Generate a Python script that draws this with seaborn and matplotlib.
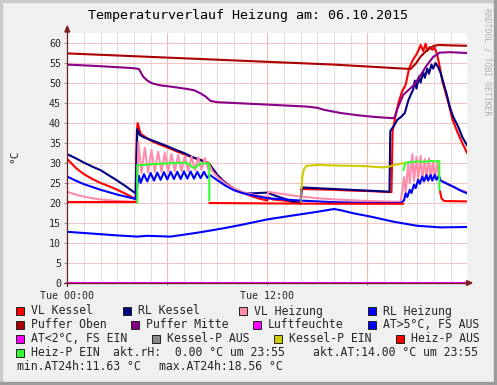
import numpy as np
import pandas as pd
import matplotlib
matplotlib.use("Agg")
import matplotlib.pyplot as plt
import seaborn as sns
from matplotlib.lines import Line2D
from matplotlib.patches import Rectangle, Polygon

nan = np.nan

# ---------------- data (hours of day, °C) ----------------
vl_kessel_h = [0, 0.5, 1.0, 1.5, 2.0, 2.5, 3.0, 3.5, 4.1, 4.17, 4.22, 4.4, 5.0, 5.5, 6.0, 6.5, 7.0, 7.5, 8.0, 8.5,
               8.7, 9.0, 9.5, 10.0, 10.5, 11.0, 11.5, 12.0, 12.05, 12.3, 13.0, 13.5, 14.0, 14.06, 15.0, 16.0, 17.0,
               18.0, 19.0, 19.45, 19.52, 19.7, 19.9, 20.1, 20.3, 20.5, 20.7, 20.85, 21.0, 21.2, 21.35, 21.5, 21.6,
               21.75, 21.9, 22.05, 22.2, 22.35, 22.5, 22.7, 22.9, 23.1, 23.4, 23.7, 24.0]
vl_kessel = [31.0, 28.8, 27.2, 26.0, 25.0, 24.2, 23.3, 22.3, 21.0, 37.5, 40.0, 37.3, 35.6, 34.7, 33.9, 33.0, 32.2,
             31.4, 30.8, 30.0, 28.7, 27.0, 25.0, 23.6, 22.6, 21.8, 21.1, 20.6, 21.4, 20.9, 20.6, 20.3, 20.1, 23.5,
             23.4, 23.3, 23.1, 23.0, 22.8, 22.7, 38.0, 42.0, 45.5, 48.0, 49.5, 53.5, 55.5, 56.5, 57.5, 59.5, 58.0,
             59.8, 58.0, 59.0, 58.3, 58.8, 57.0, 54.0, 50.5, 47.5, 44.5, 41.0, 37.8, 35.0, 32.4]

rl_kessel_h = [0, 0.5, 1.0, 1.5, 2.0, 2.5, 3.0, 3.5, 4.1, 4.15, 4.2, 4.35, 4.6, 5.0, 5.5, 6.0, 6.5, 7.0, 7.5, 8.0,
               8.56, 9.0, 9.4, 10.0, 10.5, 11.0, 11.5, 12.0, 12.5, 13.0, 13.5, 14.0, 14.06, 15.0, 16.0, 17.0, 18.0,
               19.0, 19.33, 19.38, 19.6, 19.8, 20.05, 20.25, 20.45, 20.6, 20.75, 20.85, 20.95, 21.1, 21.2, 21.35,
               21.45, 21.6, 21.7, 21.85, 21.95, 22.1, 22.25, 22.4, 22.55, 22.75, 22.95, 23.15, 23.45, 23.7, 24.0]
rl_kessel = [32.2, 31.2, 30.1, 29.1, 28.2, 26.9, 25.6, 24.2, 22.4, 31.0, 38.5, 37.0, 36.4, 35.8, 35.0, 34.2, 33.3,
             32.5, 31.5, 30.7, 29.5, 27.0, 25.3, 23.4, 22.5, 22.4, 22.5, 22.6, 21.8, 21.1, 20.4, 19.9, 23.9, 23.7,
             23.5, 23.3, 23.1, 22.9, 22.8, 38.0, 39.3, 40.8, 41.6, 42.5, 45.5, 47.0, 48.3, 50.6, 48.6, 51.6, 50.1,
             52.8, 51.3, 53.6, 52.3, 54.6, 53.6, 55.0, 54.0, 52.5, 50.3, 47.4, 44.0, 41.6, 39.1, 36.5, 34.3]

vl_heiz_h = [0, 0.5, 1.0, 1.5, 2.0, 2.5, 3.0, 3.5, 4.1, 4.2, 4.27, 4.45, 4.65, 4.85, 5.05, 5.25, 5.45, 5.65, 5.85,
             6.05, 6.25, 6.45, 6.65, 6.85, 7.05, 7.25, 7.45, 7.65, 7.85, 8.05, 8.25, 8.45, 8.56, 8.7, 9.0, 9.5,
             10.0, 10.5, 11.0, 11.5, 12.0, 12.06, 12.5, 13.0, 13.5, 14.0, 15.0, 16.0, 17.0, 18.0, 19.0, 20.0,
             20.1, 20.2, 20.3, 20.45, 20.55, 20.7, 20.8, 20.95, 21.05, 21.2, 21.3, 21.45, 21.55, 21.7, 21.8,
             21.95, 22.05, 22.2, 22.3, 22.4, 23.0, 23.5, 24.0]
vl_heiz = [22.8, 22.1, 21.6, 21.2, 20.9, 20.7, 20.5, 20.4, 20.3, 24.0, 35.3, 27.5, 33.8, 27.6, 33.2, 27.8, 32.8,
           27.8, 32.5, 27.9, 32.2, 28.0, 32.0, 28.0, 31.8, 28.0, 31.6, 28.2, 31.4, 28.3, 31.2, 28.5, 29.2, 28.0,
           26.5, 24.8, 23.6, 22.8, 22.2, 21.8, 21.4, 22.8, 22.5, 22.2, 21.9, 21.6, 21.2, 20.9, 20.7, 20.5, 20.4,
           20.3, 23.0, 26.5, 22.5, 29.8, 25.0, 32.2, 25.5, 31.5, 25.8, 31.8, 26.0, 31.0, 26.0, 31.2, 26.2, 30.5,
           26.3, 30.0, 26.0, 25.6, 24.3, 23.4, 22.7]

rl_heiz_h = [0, 0.5, 1.0, 1.5, 2.0, 2.5, 3.0, 3.5, 4.1, 4.2, 4.3, 4.4, 4.6, 4.8, 5.0, 5.2, 5.4, 5.6, 5.8, 6.0,
             6.2, 6.4, 6.6, 6.8, 7.0, 7.2, 7.4, 7.6, 7.8, 8.0, 8.2, 8.4, 8.56, 9.0, 9.5, 10.0, 10.5, 11.0, 11.5,
             12.0, 13.0, 14.0, 15.0, 16.0, 17.0, 18.0, 19.0, 20.0, 20.2, 20.3, 20.4, 20.55, 20.65, 20.8, 20.9,
             21.05, 21.15, 21.3, 21.4, 21.55, 21.65, 21.8, 21.9, 22.05, 22.15, 22.3, 22.4, 22.8, 23.2, 23.6, 24.0]
rl_heiz = [26.6, 25.6, 24.7, 24.0, 23.3, 22.7, 22.1, 21.6, 21.0, 24.5, 26.8, 25.0, 27.2, 25.4, 27.5, 25.6, 27.6,
           25.8, 27.7, 25.9, 27.8, 26.0, 27.8, 26.0, 27.9, 26.1, 27.9, 26.1, 27.8, 26.2, 27.8, 26.3, 27.0, 25.7,
           24.3, 23.2, 22.5, 22.0, 21.6, 21.2, 20.9, 20.6, 20.4, 20.2, 20.1, 20.0, 20.0, 20.0, 20.6, 22.4, 21.5,
           23.3, 22.5, 24.6, 23.7, 25.8, 24.8, 26.6, 25.4, 27.0, 25.6, 27.0, 25.6, 27.1, 25.8, 26.8, 25.6, 24.8,
           24.0, 23.1, 22.4]

puffer_oben_h = [0, 4, 8, 12, 16, 20.6, 20.9, 21.2, 21.6, 22.0, 22.3, 23.0, 24.0]
puffer_oben = [57.4, 56.7, 56.0, 55.3, 54.6, 53.5, 54.8, 56.6, 58.3, 59.3, 59.5, 59.4, 59.3]

puffer_mitte_h = [0, 2, 4.0, 4.3, 4.55, 4.8, 5.1, 5.6, 6.2, 7.2, 7.6, 8.0, 8.3, 8.6, 9.0, 10, 12, 14.4, 15.0,
                  15.4, 16.4, 17.5, 18.5, 19.55, 19.65, 19.8, 20.15, 20.8, 21.2, 21.55, 21.95, 22.35, 23.0, 24.0]
puffer_mitte = [54.6, 54.2, 53.7, 53.5, 51.6, 50.6, 49.9, 49.4, 49.1, 48.5, 48.2, 47.4, 46.6, 45.5, 45.2, 45.0,
                44.6, 44.1, 43.8, 43.3, 42.5, 41.9, 41.5, 41.2, 41.5, 43.5, 47.0, 49.5, 52.0, 54.3, 56.5, 57.6,
                57.7, 57.5]

luftfeuchte_h = [0, 24]
luftfeuchte = [0.0, 0.0]

at_h = [0, 1, 2, 3, 4.2, 4.8, 5.5, 6.2, 7.2, 8.0, 9.4, 10.4, 12.0, 13.4, 15.0, 16.0, 16.4, 17.2, 18.2, 19.6,
        21.0, 22.4, 24.0]
at_aus = [12.8, 12.5, 12.2, 11.9, 11.6, 11.8, 11.7, 11.6, 12.2, 12.7, 13.7, 14.5, 15.9, 16.8, 17.8, 18.5,
          18.2, 17.4, 16.6, 15.3, 14.3, 13.9, 14.0]

kessel_p_aus_h = [13.95, 14.04, 14.04]
kessel_p_aus = [19.8, 19.8, 23.7]

kessel_p_ein_h = [14.06, 14.1, 14.2, 14.35, 15, 16, 17, 18, 18.5, 19.0, 19.3, 19.6, 20.0, 20.2]
kessel_p_ein = [23.7, 26.5, 28.5, 29.3, 29.5, 29.4, 29.3, 29.2, 29.0, 28.9, 29.1, 29.5, 29.8, 30.0]

heiz_p_aus_h = [0, 4.2, nan, 8.52, 12.0, 16.0, 20.16, nan, 22.36, 22.45, 22.6, 24.0]
heiz_p_aus = [20.2, 20.2, nan, 20.0, 19.9, 19.8, 19.8, nan, 23.0, 21.2, 20.5, 20.4]

heiz_p_ein_h = [4.2, 4.2, 4.5, 5.0, 5.5, 6.0, 6.5, 7.0, 7.3, 7.5, 7.7, 7.9, 8.2, 8.52, 8.52, nan,
                20.16, 20.3, 20.6, 21.0, 21.4, 21.8, 22.1, 22.32, 22.32]
heiz_p_ein = [20.0, 29.5, 29.5, 29.7, 29.8, 29.9, 30.0, 30.1, 29.8, 28.9, 28.8, 29.7, 29.9, 29.9, 20.7, nan,
              28.2, 30.1, 30.2, 30.4, 30.3, 30.5, 30.4, 30.5, 23.2]

legend_labels = ["VL Kessel", "RL Kessel", "VL Heizung", "RL Heizung", "Puffer Oben", "Puffer Mitte",
                 "Luftfeuchte", "AT>5°C, FS AUS", "AT<2°C, FS EIN", "Kessel-P AUS", "Kessel-P EIN",
                 "Heiz-P AUS", "Heiz-P EIN"]
legend_colors = ["#ff0000", "#000080", "#ff8cab", "#0000ff", "#aa0000", "#880088", "#ff00ff", "#0000ff",
                 "#ff00ff", "#888888", "#cccc00", "#ff0000", "#33ff33"]
gprint_texts = ["akt.rH:  0.00 °C um 23:55", "akt.AT:14.00 °C um 23:55",
                "min.AT24h:11.63 °C", "max.AT24h:18.56 °C"]
title = "Temperaturverlauf Heizung am: 06.10.2015"
x_tick_labels = ["Tue 00:00", "Tue 12:00"]

# ---------------- figure ----------------
sns.set_style("white")
plt.rcParams['font.family'] = ['DejaVu Sans Mono', 'DejaVu Sans']

W, H = 497, 385
fig = plt.figure(figsize=(W / 100, H / 100), dpi=100, facecolor='#f0f0f0')

def fx(x):
    return x / W

def fy(y):
    return 1 - y / H

L, T, PW, PH = 67.3, 33.0, 400.0, 250.0
ax = fig.add_axes([fx(L), fy(T + PH), PW / W, PH / H])
ax.set_facecolor('white')

# grid
for hh in range(1, 24):
    if hh % 6 == 0:
        ax.axvline(hh, color='#f2b8b8', lw=0.8, zorder=0.6)
    else:
        ax.axvline(hh, color='#e0e0e0', lw=0.8, zorder=0.5)
for v in range(5, 61, 5):
    ax.axhline(v, color='#f2c4c4', lw=0.8, zorder=0.6)

def draw(hours, vals, color, lw=1.5, clip=True):
    df = pd.DataFrame({'h': hours, 'v': vals}, dtype=float)
    ok = df['v'].notna()
    seg = df['v'].isna().cumsum()
    for _, part in df[ok].groupby(seg[ok]):
        sns.lineplot(data=part, x='h', y='v', ax=ax, color=color, lw=lw, sort=False,
                     estimator=None, errorbar=None, legend=False)
        ax.lines[-1].set_clip_on(clip)
        ax.lines[-1].set_solid_joinstyle('round')

series = [
    (vl_kessel_h, vl_kessel, legend_colors[0]),
    (rl_kessel_h, rl_kessel, legend_colors[1]),
    (vl_heiz_h, vl_heiz, legend_colors[2]),
    (rl_heiz_h, rl_heiz, legend_colors[3]),
    (puffer_oben_h, puffer_oben, legend_colors[4]),
    (puffer_mitte_h, puffer_mitte, legend_colors[5]),
]
for hs, vs, c in series:
    draw(hs, vs, c)
draw(luftfeuchte_h, luftfeuchte, legend_colors[6], clip=False)
draw(at_h, at_aus, legend_colors[7])
draw(kessel_p_aus_h, kessel_p_aus, legend_colors[9])
draw(kessel_p_ein_h, kessel_p_ein, legend_colors[10])
draw(heiz_p_aus_h, heiz_p_aus, legend_colors[11])
draw(heiz_p_ein_h, heiz_p_ein, legend_colors[12])

ax.set_xlim(0, 24)
ax.set_ylim(0, 62.5)
ax.set_xlabel('')
ax.set_ylabel('')
for s in ax.spines.values():
    s.set_visible(False)

ax.set_yticks(range(0, 61, 5))
ax.set_yticklabels([str(v) for v in range(0, 61, 5)])
ax.set_xticks([0, 6, 12, 18])
ax.set_xticklabels([x_tick_labels[0], '', x_tick_labels[1], ''])
ax.tick_params(axis='y', length=2.2, width=0.8, color='#909090', pad=2.4, labelsize=7.2, direction='out', left=True)
ax.tick_params(axis='x', length=1.5, width=0.8, color='#909090', pad=4.4, labelsize=7.2, direction='out', bottom=True)

# axes lines with arrows (RRD style)
axc = '#6b1f1f'
fig.add_artist(Line2D([fx(63.5), fx(468)], [fy(283), fy(283)], color=axc, lw=0.9, zorder=5))
fig.add_artist(Line2D([fx(L), fx(L)], [fy(286), fy(31)], color=axc, lw=0.9, zorder=5))
fig.add_artist(Polygon([[fx(L), fy(26)], [fx(L - 2.4), fy(32)], [fx(L + 2.4), fy(32)]],
                       closed=True, color='#7f1f1f', zorder=6))
fig.add_artist(Polygon([[fx(472), fy(283)], [fx(466.5), fy(280.6)], [fx(466.5), fy(285.4)]],
                       closed=True, color='#7f1f1f', zorder=6))

# frame shading
fig.add_artist(Rectangle((0, fy(2)), 1, 2 / H, color='#cbcbcb', zorder=10))
fig.add_artist(Rectangle((0, 0), 2 / W, 1, color='#cbcbcb', zorder=10))
fig.add_artist(Rectangle((0, 0), 1, 3 / H, color='#9c9c9c', zorder=11))
fig.add_artist(Rectangle((fx(494), 0), 3 / W, 1, color='#9c9c9c', zorder=11))

# texts
fig.text(fx(248.5), fy(15.5), title, ha='center', va='center', fontsize=9.6, color='black')
fig.text(fx(486.5), fy(8), "RRDTOOL / TOBI OETIKER", rotation=270, ha='center', va='top',
         fontsize=5.9, color='#b0b0b0')
fig.text(fx(14), fy(156), "°C", rotation=90, ha='center', va='center', fontsize=8)

# legend (RRD layout)
leg_pos = [(16.3, 31, 311), (123.3, 138.3, 311), (239.3, 254, 311), (368.3, 382.7, 311),
           (16.3, 31, 325), (131, 145.7, 325), (252.7, 267.3, 325), (368.3, 382.7, 325),
           (16.3, 31, 339), (151.7, 166.7, 339), (274, 288.7, 339), (396, 410.7, 339),
           (16.3, 31, 353)]
LFS = 8.3
for lab, col, (sx, tx, ry) in zip(legend_labels, legend_colors, leg_pos):
    fig.add_artist(Rectangle((fx(sx), fy(ry + 4)), 8 / W, 8 / H, facecolor=col, edgecolor='#202020',
                             lw=0.7, zorder=8))
    fig.text(fx(tx), fy(ry), lab, ha='left', va='center', fontsize=LFS)
gp_pos = [(113.3, 353), (312.7, 353), (16.7, 367), (159, 367)]
for txt, (tx, ry) in zip(gprint_texts, gp_pos):
    fig.text(fx(tx), fy(ry), txt, ha='left', va='center', fontsize=LFS)

fig.savefig('out.png', dpi=100, facecolor=fig.get_facecolor())
